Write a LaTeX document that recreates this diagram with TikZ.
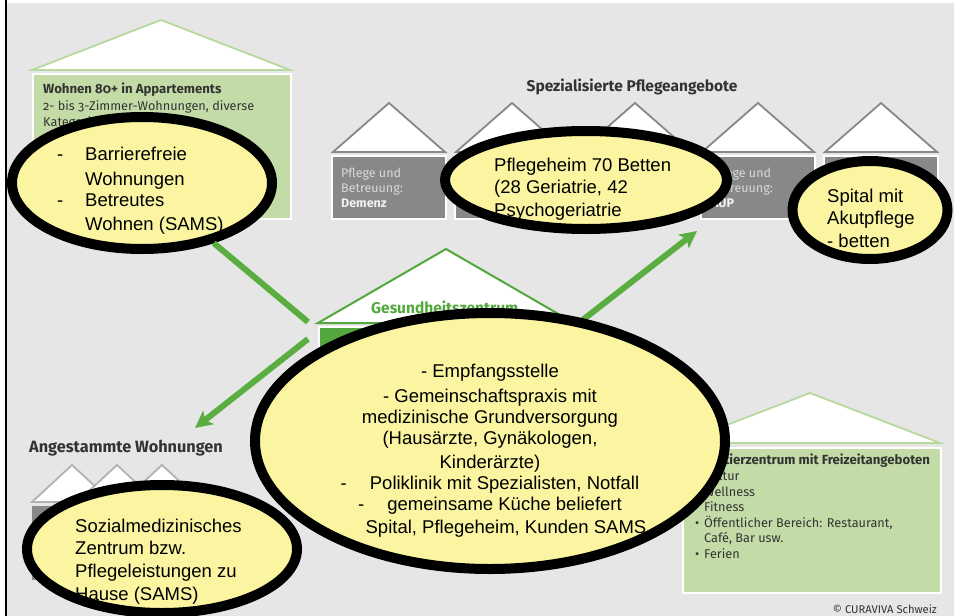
\documentclass[tikz,border=0pt]{standalone}
\usepackage{fontspec}
\setmainfont{Liberation Sans}
\newfontfamily\infofont[Numbers=OldStyle]{Fira Sans}
\usetikzlibrary{arrows.meta, positioning, shapes.geometric}

\definecolor{bggray}{HTML}{E6E6E6}
\definecolor{boxgreen}{HTML}{C3DCA7}
\definecolor{roofgreen}{HTML}{B8D99E}
\definecolor{darkgreen}{HTML}{52A83C}
\definecolor{arrowgreen}{HTML}{5AAE40}
\definecolor{boxgray}{HTML}{888888}
\definecolor{bubbleyellow}{HTML}{FBF5A2}
\definecolor{infotext}{HTML}{333333}

\tikzset{
    roof/.style={fill=white, line width=1.8pt}, % white gable of a house
    greenbox/.style={fill=boxgreen, draw=white, line width=1.5pt, inner sep=0pt},
    graybox/.style={fill=boxgray, draw=white, line width=1.5pt, inner sep=0pt},
    bubble/.style={ellipse, draw=black, line width=10pt, fill=bubbleyellow, inner sep=0pt}, % yellow callout
    bubbletext/.style={font=\fontsize{18.5}{22.5}\selectfont, align=left, inner sep=0pt, anchor=base west}, % placed at the baseline of the last line
    info/.style={font=\infofont\fontsize{12.7}{15.5}\selectfont, text=infotext, inner sep=0pt, anchor=base west, align=left},
    heading/.style={info, font=\infofont\bfseries\fontsize{13.2}{15}\selectfont},
    sectionhead/.style={info, font=\infofont\bfseries\fontsize{15.5}{17}\selectfont},
    flow/.style={draw=arrowgreen, line width=6pt},
    tip/.style={-{Stealth[length=17pt, width=17pt, inset=4pt]}},
}

\begin{document}
\begin{tikzpicture}[x=1pt, y=-1pt]
    \useasboundingbox (0,0) rectangle (954,616);
    \fill[white] (0,0) rectangle (954,616);
    \fill[bggray] (7,3) rectangle (954,616);
    \draw[line width=2pt] (6,0) -- (6,616);

    % Wohnen 80+
    \draw[roof, draw=roofgreen] (32,70) -- (161,20) -- (290,70) -- cycle;
    \node[greenbox, minimum width=258pt, minimum height=145pt, anchor=north west] (wohnen) at (32,73) {};
    \node[heading] (wohnen-title) at (43,93) {Wohnen 80+ in Appartements};
    \node[info] (wohnen-text) at (43,126) {2- bis 3-Zimmer-Wohnungen, diverse\\Kategorien};

    % Spezialisierte Pflegeangebote
    \node[sectionhead, anchor=base] (spez) at (632,91) {Spezialisierte Pflegeangebote};
    \foreach \i/\cx in {1/389,2/512,3/635,4/758,5/881} {
        \draw[roof, draw=boxgray] (\cx-56,152) -- (\cx,103) -- (\cx+56,152) -- cycle;
        \node[graybox, minimum width=114pt, minimum height=63pt, anchor=north] (pflege\i) at (\cx,155) {};
    }
    \node[info, text=white!85!black, font=\infofont\fontsize{12.5}{15}\selectfont] (demenz) at (341,207) {Pflege und\\Betreuung:\\\textbf{\color{white!95!black}Demenz}};
    \node[info, text=white!85!black, font=\infofont\fontsize{12.5}{15}\selectfont] (pflege4-text) at (711,207) {Pflege und\\Betreuung:\\\textbf{\color{white!95!black}AÜP}};

    % Gesundheitszentrum
    \draw[roof, draw=darkgreen, line width=2pt] (318,323) -- (446,249) -- (574,323) -- cycle;
    \node[fill=darkgreen, draw=white, line width=1.5pt, minimum width=256pt, minimum height=100pt, anchor=north west] (gz) at (318,326) {};
    \node[sectionhead, text=darkgreen, anchor=base west] (gz-title) at (371,313) {Gesundheitszentrum};

    % Angestammte Wohnungen
    \node[sectionhead, font=\infofont\bfseries\fontsize{16.3}{17}\selectfont] (angestammt) at (29,452) {Angestammte Wohnungen};
    \fill[boxgray] (32,506) rectangle (202,580);
    \foreach \cx in {72,117,162}
        \draw[roof, draw=gray!60] (\cx-40,502) -- (\cx,465) -- (\cx+40,502) -- cycle;

    % Quartierzentrum
    \draw[roof, draw=roofgreen] (680,443) -- (810,393) -- (940,443) -- cycle;
    \node[greenbox, minimum width=258pt, minimum height=145pt, anchor=north west] (quartier) at (682,447) {};
    \node[heading] (quartier-title) at (695,464) {Quartierzentrum mit Freizeitangeboten};
    \node[info] (quartier-text) at (695,558) {\makebox[9pt][l]{•}Kultur\\\makebox[9pt][l]{•}Wellness\\\makebox[9pt][l]{•}Fitness\\\makebox[9pt][l]{•}Öffentlicher Bereich: Restaurant,\\\hspace*{9pt}Café, Bar usw.\\\makebox[9pt][l]{•}Ferien};

    \node[info, font=\infofont\fontsize{11.2}{12}\selectfont, anchor=base east] (copy) at (937,613) {© CURAVIVA Schweiz};

    % arrows out of the Gesundheitszentrum
    \coordinate (gz-left) at (308,322);
    \coordinate (gz-low) at (308,339);
    \coordinate (gz-roof) at (562,336);
    \coordinate (wohnungen-tip) at (195,428);
    \coordinate (spez-tip) at (697,231);
    \draw[flow, tip] (gz-low) -- (wohnungen-tip);
    \draw[flow, tip] (gz-roof) -- (spez-tip);

    % yellow callouts
    \node[bubble, minimum width=260pt, minimum height=132pt] (wohnen-bubble) at (142,183) {};
    \node[bubbletext] at (57,230) {\makebox[28pt][l]{-}Barrierefreie\\[2.5pt]\hspace*{28pt}Wohnungen\\[-1.5pt]\makebox[28pt][l]{-}Betreutes\\[1.5pt]\hspace*{28pt}Wohnen (SAMS)};

    \node[bubble, minimum width=282pt, minimum height=98pt] (heim-bubble) at (586,180) {};
    \node[bubbletext] at (494,216) {Pflegeheim 70 Betten\\(28 Geriatrie, 42\\Psychogeriatrie};

    \node[bubble, minimum width=155pt, minimum height=98pt] (spital-bubble) at (870,210) {};
    \node[bubbletext] at (827,247) {Spital mit\\Akutpflege\\- betten};

    \node[bubble, minimum width=470pt, minimum height=256pt] (gz-bubble) at (490,441) {};
    \node[bubbletext, align=center, anchor=base] at (490,533) {- Empfangsstelle\\[2.5pt]- Gemeinschaftspraxis mit\\[-1.5pt]medizinische Grundversorgung\\[-1.5pt](Hausärzte, Gynäkologen,\\[1.5pt]Kinderärzte)\\[-1.5pt]-\hspace*{23pt}Poliklinik mit Spezialisten, Notfall\\[-1.5pt]-\hspace*{23pt}gemeinsame Küche beliefert\\[0.5pt]\hspace*{32pt}Spital, Pflegeheim, Kunden SAMS};

    \node[bubble, minimum width=270pt, minimum height=128pt] (sams-bubble) at (162,549) {};
    \node[bubbletext] at (75,600) {Sozialmedizinisches\\[0.2pt]Zentrum bzw.\\[0.2pt]Pflegeleistungen zu\\Hause (SAMS)};

    \draw[flow] (wohnen-bubble) -- (gz-left);
\end{tikzpicture}
\end{document}
